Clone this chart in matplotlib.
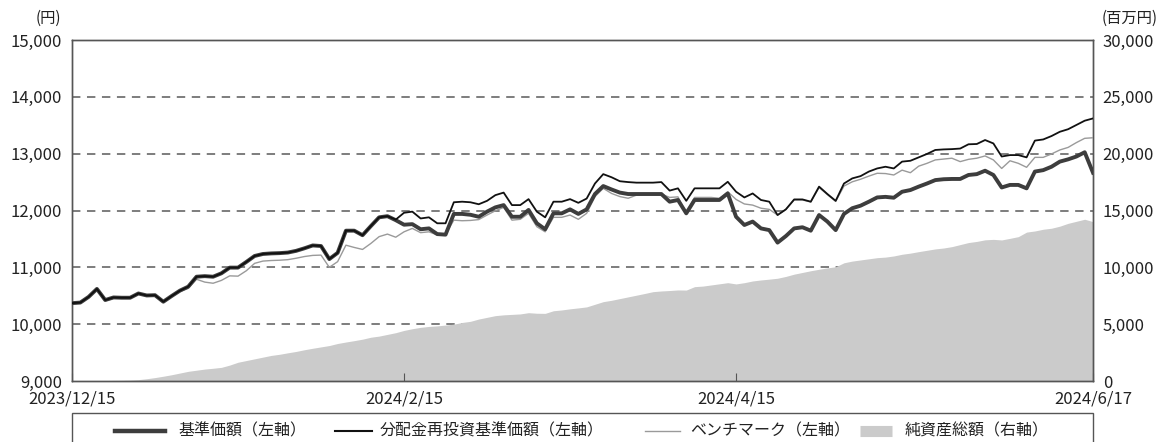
import matplotlib
matplotlib.use("Agg")
import matplotlib.pyplot as plt
from matplotlib.patches import Rectangle
from matplotlib.lines import Line2D
from matplotlib.transforms import ScaledTranslation

plt.rcParams['font.family'] = ['Noto Sans CJK JP', 'DejaVu Sans']

# x axis: trading-day index, labelled at four dates
tick_pos = [0, 40, 80, 123]
tick_labels = ["2023/12/15", "2024/2/15", "2024/4/15", "2024/6/17"]

# 基準価額 (yen)
nav = [10370, 10380, 10480, 10620, 10425, 10470, 10465, 10465, 10540, 10505,
       10510, 10395, 10495, 10590, 10660, 10835, 10845, 10835, 10895, 10995,
       10995, 11095, 11200, 11235, 11245, 11250, 11260, 11290, 11335, 11385,
       11375, 11145, 11255, 11645, 11645, 11565, 11725, 11880, 11900, 11830,
       11750, 11760, 11670, 11685, 11585, 11575, 11940, 11940, 11925, 11890,
       11980, 12055, 12095, 11890, 11890, 12010, 11775, 11670, 11950, 11950,
       12020, 11940, 12020, 12290, 12430, 12370, 12315, 12290, 12290, 12290,
       12290, 12290, 12155, 12185, 11950, 12185, 12185, 12185, 12185, 12300,
       11890, 11745, 11805, 11685, 11655, 11435, 11550, 11685, 11705, 11645,
       11920, 11805, 11655, 11940, 12040, 12085, 12155, 12230, 12240, 12225,
       12330, 12360, 12420, 12475, 12535, 12550, 12555, 12555, 12625, 12640,
       12700, 12625, 12405, 12450, 12450, 12390, 12685, 12710, 12770, 12860,
       12900, 12950, 13025, 12665]

# 分配金再投資基準価額 (yen)
nav_reinv = [10370, 10380, 10480, 10620, 10425, 10470, 10465, 10465, 10540, 10505,
             10510, 10395, 10495, 10590, 10660, 10835, 10845, 10835, 10895, 10995,
             10995, 11095, 11200, 11235, 11245, 11250, 11260, 11290, 11335, 11385,
             11375, 11145, 11255, 11645, 11645, 11565, 11725, 11880, 11900, 11840,
             11960, 11980, 11860, 11880, 11775, 11775, 12145, 12155, 12145, 12110,
             12170, 12270, 12315, 12095, 12095, 12200, 11980, 11880, 12155, 12155,
             12200, 12135, 12210, 12475, 12640, 12585, 12515, 12500, 12490, 12490,
             12490, 12500, 12350, 12390, 12170, 12390, 12390, 12390, 12390, 12505,
             12330, 12230, 12300, 12185, 12155, 11920, 12020, 12195, 12195, 12155,
             12420, 12290, 12170, 12475, 12565, 12605, 12685, 12740, 12770, 12740,
             12860, 12875, 12935, 12995, 13065, 13075, 13080, 13090, 13165, 13170,
             13240, 13180, 12950, 12975, 12975, 12935, 13230, 13250, 13310, 13385,
             13430, 13505, 13580, 13620]

# ベンチマーク (yen)
bench = [10360, 10370, 10470, 10610, 10410, 10455, 10455, 10455, 10530, 10495,
         10500, 10385, 10485, 10575, 10630, 10790, 10740, 10720, 10770, 10850,
         10845, 10940, 11070, 11110, 11120, 11125, 11135, 11160, 11190, 11210,
         11215, 11000, 11100, 11390, 11350, 11315, 11420, 11540, 11585, 11530,
         11625, 11685, 11610, 11625, 11570, 11585, 11830, 11820, 11825, 11840,
         11920, 11995, 12055, 11830, 11845, 11950, 11715, 11625, 11880, 11880,
         11920, 11845, 11950, 12245, 12390, 12300, 12245, 12215, 12270, 12290,
         12290, 12290, 12230, 12240, 11950, 12230, 12230, 12230, 12215, 12330,
         12195, 12115, 12095, 12040, 12020, 11920, 12020, 12185, 12185, 12150,
         12405, 12280, 12160, 12430, 12505, 12550, 12605, 12655, 12650, 12625,
         12710, 12665, 12780, 12830, 12890, 12905, 12920, 12860, 12900, 12920,
         12960, 12890, 12740, 12875, 12830, 12760, 12935, 12935, 12995, 13065,
         13110, 13195, 13270, 13280]

# 純資産総額 (million yen)
assets = [30, 30, 30, 30, 40, 50, 60, 80, 120, 200,
          300, 420, 550, 700, 850, 950, 1050, 1120, 1200, 1400,
          1650, 1800, 1950, 2100, 2250, 2350, 2480, 2600, 2750, 2880,
          3000, 3120, 3300, 3430, 3550, 3680, 3850, 3950, 4100, 4250,
          4450, 4600, 4720, 4800, 4850, 4920, 5000, 5150, 5250, 5450,
          5600, 5750, 5820, 5860, 5900, 6010, 5960, 5950, 6180, 6250,
          6350, 6430, 6520, 6750, 6980, 7100, 7250, 7400, 7550, 7700,
          7860, 7920, 7960, 8010, 8000, 8300, 8350, 8450, 8550, 8650,
          8540, 8650, 8800, 8890, 8960, 9040, 9200, 9400, 9550, 9700,
          9830, 9950, 10050, 10400, 10550, 10650, 10750, 10850, 10900, 11000,
          11150, 11250, 11380, 11500, 11620, 11700, 11820, 12000, 12180, 12280,
          12420, 12460, 12410, 12550, 12700, 13100, 13200, 13350, 13440, 13620,
          13870, 14050, 14230, 14020]

legend_labels = ["基準価額（左軸）", "分配金再投資基準価額（左軸）", "ベンチマーク（左軸）", "純資産総額（右軸）"]

x = list(range(len(nav)))

c_nav = "#3d3d3d"
c_reinv = "#111111"
c_bench = "#9a9a9a"
c_area = "#cbcbcb"
c_spine = "#555555"
c_text = "#222222"

W, H = 1165, 442
fig = plt.figure(figsize=(W / 100, H / 100), dpi=100)
ax2 = fig.add_axes([72 / W, 1 - 381 / H, 1021 / W, 341 / H])
ax = ax2.twinx()
ax.yaxis.tick_left()
ax2.yaxis.tick_right()
ax.set_zorder(ax2.get_zorder() + 1)
ax.patch.set_visible(False)

# right axis: dashed grid under the net-assets area
for g in [5000, 10000, 15000, 20000, 25000]:
    ax2.axhline(g, color="#5a5a5a", lw=1.1, linestyle=(0, (5.5, 4.3)), zorder=0)
ax2.fill_between(x, 0, assets, color=c_area, lw=0, zorder=1)
ax2.set_ylim(0, 30000)
ax2.set_yticks(range(0, 30001, 5000))
ax2.set_yticklabels([f"{v:,}" for v in range(0, 30001, 5000)])

# left axis: price lines
ax.plot(x, bench, color=c_bench, lw=1.0, zorder=3)
ax.plot(x, nav, color=c_nav, lw=2.8, zorder=4)
ax.plot(x, nav_reinv, color=c_reinv, lw=1.3, zorder=5)
ax.set_ylim(9000, 15000)
ax.set_yticks(range(9000, 15001, 1000))
ax.set_yticklabels([f"{v:,}" for v in range(9000, 15001, 1000)])

ax2.set_xlim(0, len(x) - 1)
ax2.set_xticks(tick_pos)
ax2.set_xticklabels(tick_labels)
# end labels sit a little inside, as in the original
shifts = [-8, 0, 0, -27]
for lab, dx in zip(ax2.get_xticklabels(), shifts):
    lab.set_transform(lab.get_transform() + ScaledTranslation(dx / 100, 0, fig.dpi_scale_trans))

for a in (ax, ax2):
    for s in a.spines.values():
        s.set_color(c_spine)
        s.set_linewidth(1.0)
ax.tick_params(axis="y", length=0, pad=7, labelsize=12, labelcolor=c_text)
ax2.tick_params(axis="y", length=0, pad=7, labelsize=12, labelcolor=c_text)
ax2.tick_params(axis="x", direction="in", length=6, color=c_spine, pad=7,
                labelsize=12, labelcolor=c_text)

fig.text(48 / W, 1 - 18 / H, "(円)", ha="center", va="center", fontsize=11, color=c_text)
fig.text(1130 / W, 1 - 18 / H, "(百万円)", ha="center", va="center", fontsize=11, color=c_text)

# legend: box running off the bottom edge, entries placed as in the original
fig.patches.append(Rectangle((72 / W, -0.05), 1021 / W, 0.05 + 1 - 413 / H,
                             transform=fig.transFigure, fill=False,
                             edgecolor=c_spine, lw=1.0))
ly = 1 - 431 / H
handle_spans = [(115, 165), (335, 372), (645, 680), (860, 892)]
text_x = [178, 380, 690, 905]
handle_styles = [dict(color=c_nav, lw=3.2), dict(color=c_reinv, lw=1.5),
                 dict(color=c_bench, lw=1.0), dict(color=c_area, lw=8, solid_capstyle="butt")]
for (x0, x1), tx, st, lab in zip(handle_spans, text_x, handle_styles, legend_labels):
    fig.add_artist(Line2D([x0 / W, x1 / W], [ly, ly], transform=fig.transFigure, **st))
    fig.text(tx / W, ly, lab, ha="left", va="center", fontsize=11.5, color=c_text)

fig.savefig("out.png", dpi=100)
